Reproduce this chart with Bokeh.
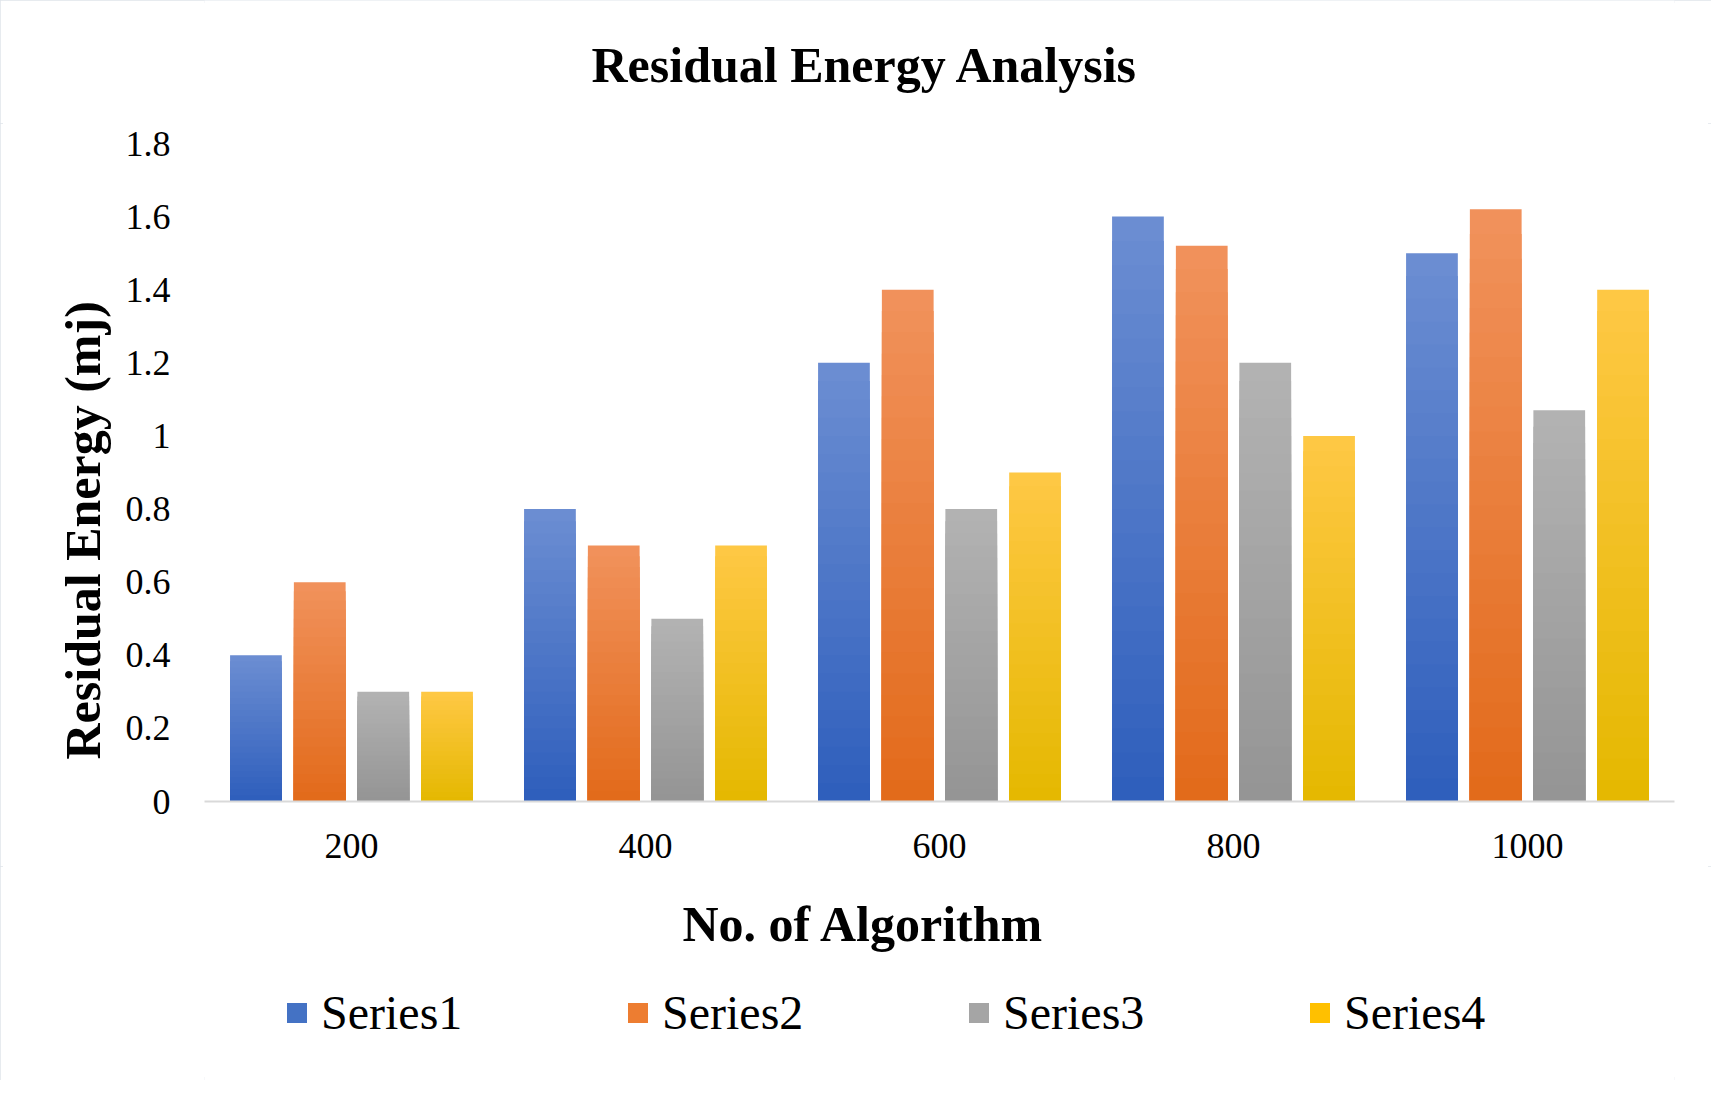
from bokeh.plotting import figure
from bokeh.layouts import column
from bokeh.models import FactorRange, Range1d, FixedTicker, Legend, LegendItem, ColumnDataSource, Title
from bokeh.transform import dodge
from bokeh.embed import file_html
from bokeh.resources import INLINE

# ---- data ----
categories = ["200", "400", "600", "800", "1000"]
series_names = ["Series1", "Series2", "Series3", "Series4"]
series1 = [0.4, 0.8, 1.2, 1.6, 1.5]
series2 = [0.6, 0.7, 1.4, 1.52, 1.62]
series3 = [0.3, 0.5, 0.8, 1.2, 1.07]
series4 = [0.3, 0.7, 0.9, 1.0, 1.4]
y_ticks = [0, 0.2, 0.4, 0.6, 0.8, 1.0, 1.2, 1.4, 1.6, 1.8]
y_tick_labels = ["0", "0.2", "0.4", "0.6", "0.8", "1", "1.2", "1.4", "1.6", "1.8"]

# gradient colours (bottom dark, top light)
grad = [
    ((0x2e, 0x5e, 0xbc), (0x6c, 0x8e, 0xd2)),
    ((0xe2, 0x6a, 0x1a), (0xf1, 0x92, 0x5c)),
    ((0x94, 0x94, 0x94), (0xb3, 0xb3, 0xb3)),
    ((0xe4, 0xb8, 0x00), (0xff, 0xc8, 0x45)),
]
mid_colors = ["#4472c4", "#ed7d31", "#a5a5a5", "#ffc000"]

SERIF = "Liberation Serif"
W = 1711
H0 = 123
H2 = 214
H1 = 1080 - H0 - H2

x_range = FactorRange(*categories, range_padding=0)

# ---- top strip: chart title ----
p0 = figure(
    width=W, height=H0,
    x_range=x_range, y_range=Range1d(0, 1),
    output_backend="svg", toolbar_location=None,
    x_axis_location=None, y_axis_location=None,
    min_border_left=0, min_border_right=0, min_border_top=0, min_border_bottom=87,
)
p0.outline_line_color = None
p0.grid.visible = False
main_title = Title(text="Residual Energy Analysis", text_font=SERIF, text_font_size="50px",
                   text_font_style="bold", text_color="black", align="left", offset=387,
                   vertical_align="top", standoff=0)
p0.add_layout(main_title, "below")

# ---- main chart ----
p = figure(
    width=W, height=H1,
    x_range=x_range,
    y_range=Range1d(0, 1.8),
    output_backend="svg", toolbar_location=None,
    min_border_left=204, min_border_right=37,
    min_border_top=20, min_border_bottom=65,
)
p.outline_line_color = None
p.xgrid.grid_line_color = None
p.ygrid.grid_line_color = None

# y axis
p.yaxis.ticker = FixedTicker(ticks=y_ticks)
p.yaxis.major_label_overrides = {t: l for t, l in zip(y_ticks, y_tick_labels)}
p.yaxis.axis_line_color = None
p.yaxis.major_tick_line_color = None
p.yaxis.minor_tick_line_color = None
p.yaxis.major_tick_out = 0
p.yaxis.major_label_standoff = 34
p.yaxis.major_label_text_font = SERIF
p.yaxis.major_label_text_font_size = "36px"
p.yaxis.major_label_text_color = "black"

ytitle = Title(text="Residual Energy (mj)", text_font=SERIF, text_font_size="50px",
               text_font_style="bold", text_color="black", align="left", offset=42,
               vertical_align="bottom", standoff=23)
p.add_layout(ytitle, "left")

# x axis
p.xaxis.axis_line_color = "#d9d9d9"
p.xaxis.axis_line_width = 2
p.xaxis.major_tick_line_color = None
p.xaxis.minor_tick_line_color = None
p.xaxis.major_tick_out = 0
p.xaxis.major_label_standoff = 32
p.xaxis.major_label_text_font = SERIF
p.xaxis.major_label_text_font_size = "36px"
p.xaxis.major_label_text_color = "black"

values = [series1, series2, series3, series4]
offsets = [-0.325, -0.108, 0.108, 0.325]
bar_w = 0.176
N = 24

for s, (vals, off, (c0, c1)) in enumerate(zip(values, offsets, grad)):
    # layered fill: each layer starts at 0, shorter layers (darker) drawn on top
    for k in range(N):
        frac_top = (N - k) / N
        t = (N - k - 0.5) / N
        col = "#%02x%02x%02x" % tuple(int(round(a + (b - a) * t)) for a, b in zip(c0, c1))
        src = ColumnDataSource(dict(
            x=categories,
            top=[v * frac_top for v in vals],
        ))
        p.vbar(x=dodge("x", off, range=x_range), bottom=0, top="top",
               width=bar_w, source=src, fill_color=col, line_color=None)

# ---- lower strip: x-axis title + legend ----
p2 = figure(
    width=W, height=H2,
    x_range=x_range, y_range=Range1d(0, 1.8),
    output_backend="svg", toolbar_location=None,
    x_axis_location=None, y_axis_location=None,
    min_border_left=0, min_border_right=0, min_border_top=114, min_border_bottom=0,
)
p2.outline_line_color = None
p2.grid.visible = False
p2.title.text = "No. of Algorithm"
p2.title.text_font = SERIF
p2.title.text_font_size = "50px"
p2.title.text_font_style = "bold"
p2.title.text_color = "black"
p2.title.align = "left"
p2.title.offset = 478
p2.title.vertical_align = "top"
p2.title.standoff = 58

# legend proxies: the series drawn hidden, only their legend swatches show
items = []
for name, vals, col in zip(series_names, values, mid_colors):
    r = p2.vbar(x=categories, top=vals, width=0.1, fill_color=col, line_color=None, visible=False)
    items.append(LegendItem(label=name, renderers=[r]))

legend = Legend(items=items, orientation="horizontal", location=(80, 40))
legend.label_text_font = SERIF
legend.label_text_font_size = "48px"
legend.label_text_color = "black"
legend.label_height = 50
legend.label_width = 304
legend.glyph_width = 25
legend.glyph_height = 25
legend.label_standoff = 12
legend.spacing = 0
legend.padding = 0
legend.margin = 0
legend.border_line_color = None
legend.background_fill_alpha = 0
legend.inactive_fill_alpha = 0
p2.add_layout(legend, "center")

layout = column(p0, p, p2, spacing=0)
layout.styles = {"outline": "3px solid #dfe4ea", "outline-offset": "-3px"}

open("out.html", "w").write(file_html(layout, INLINE))
